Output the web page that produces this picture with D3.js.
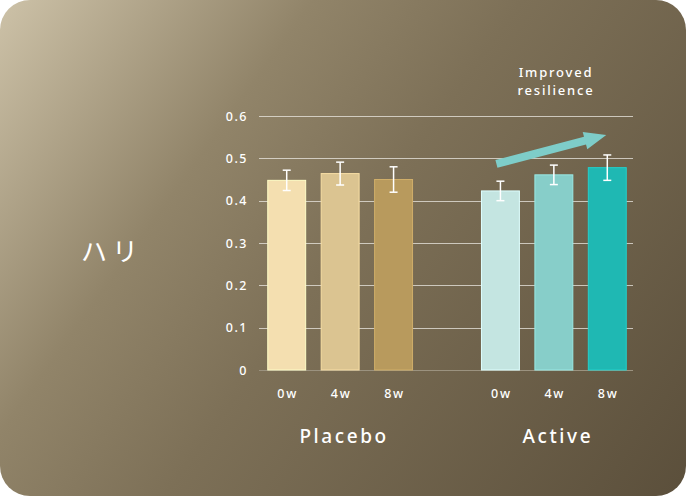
<!DOCTYPE html>
<html><head><meta charset="utf-8">
<script src="https://cdn.jsdelivr.net/npm/d3@7"></script>
<style>html,body{margin:0;padding:0;background:#fff;}svg{display:block;}</style>
</head><body>
<script>
const weeks = ["0w", "4w", "8w"];
const groups = ["Placebo", "Active"];
const placeboValues = [0.448, 0.464, 0.450];
const placeboErrors = [0.024, 0.027, 0.030];
const activeValues = [0.423, 0.461, 0.478];
const activeErrors = [0.023, 0.023, 0.030];
const yTicks = [0, 0.1, 0.2, 0.3, 0.4, 0.5, 0.6];
const placeboColors = ["#f4dfb0", "#dbc491", "#b89a5d"];
const activeColors = ["#c4e5e1", "#87cec9", "#1fb8b3"];
const yLabel = "ハリ";
const annotation = ["Improved", "resilience"];

const W = 686, H = 496;
const svg = d3.select("body").append("svg").attr("width", W).attr("height", H);
const defs = svg.append("defs");
const grad = defs.append("linearGradient").attr("id", "bg")
  .attr("gradientUnits", "userSpaceOnUse").attr("x1", 0).attr("y1", 0).attr("x2", W).attr("y2", H);
grad.append("stop").attr("offset", 0).attr("stop-color", "#cdc2a8");
grad.append("stop").attr("offset", 0.3).attr("stop-color", "#918469");
grad.append("stop").attr("offset", 0.5).attr("stop-color", "#7d7057");
grad.append("stop").attr("offset", 1).attr("stop-color", "#5b4f3b");
svg.append("rect").attr("width", W).attr("height", H).attr("rx", 30).attr("ry", 30).attr("fill", "url(#bg)");

const slots = ["P0", "P4", "P8", "gap", "A0", "A4", "A8"];
const x = d3.scaleBand().domain(slots).range([260, 634]).paddingInner(0.29).paddingOuter(0.145);
const y = d3.scaleLinear().domain([0, 0.6]).range([370, 116]);

const bars = [];
weeks.forEach((w, i) => bars.push({slot: slots[i], week: w, v: placeboValues[i], e: placeboErrors[i], c: placeboColors[i]}));
weeks.forEach((w, i) => bars.push({slot: slots[i + 4], week: w, v: activeValues[i], e: activeErrors[i], c: activeColors[i]}));

// grid
const g = svg.append("g");
g.selectAll("line.grid").data(yTicks).enter().append("line")
  .attr("x1", 259).attr("x2", 633)
  .attr("y1", d => Math.round(y(d)) + 0.5).attr("y2", d => Math.round(y(d)) + 0.5)
  .attr("stroke", d => d === 0 ? "#9b927f" : "rgba(235,232,225,0.75)").attr("stroke-width", 1);

g.selectAll("text.tick").data(yTicks).enter().append("text")
  .attr("x", 248).attr("y", d => y(d)).attr("dy", "0.36em")
  .attr("text-anchor", "end").attr("fill", "#fff")
  .attr("font-family", "Noto Sans, sans-serif").attr("font-size", 12.5).attr("font-weight", 500)
  .attr("letter-spacing", 1.5)
  .text(d => d === 0 ? "0" : d3.format(".1f")(d));

// bars
svg.selectAll("rect.bar").data(bars).enter().append("rect")
  .attr("x", d => x(d.slot)).attr("width", x.bandwidth())
  .attr("y", d => y(d.v)).attr("height", d => y(0) - y(d.v))
  .attr("fill", d => d.c)
  .attr("stroke", d => d3.color(d.c).brighter(0.35)).attr("stroke-width", 1);

// error bars
const eb = svg.selectAll("g.err").data(bars).enter().append("g")
  .attr("stroke", "#fff").attr("stroke-width", 1.5);
eb.append("line").attr("x1", d => x(d.slot) + x.bandwidth() / 2).attr("x2", d => x(d.slot) + x.bandwidth() / 2)
  .attr("y1", d => y(d.v + d.e)).attr("y2", d => y(d.v - d.e));
[1, -1].forEach(s => {
  eb.append("line").attr("x1", d => x(d.slot) + x.bandwidth() / 2 - 4).attr("x2", d => x(d.slot) + x.bandwidth() / 2 + 4)
    .attr("y1", d => y(d.v + s * d.e)).attr("y2", d => y(d.v + s * d.e));
});

// week labels
svg.selectAll("text.wk").data(bars).enter().append("text")
  .attr("x", d => x(d.slot) + x.bandwidth() / 2 + 1).attr("y", 393).attr("dy", "0.36em")
  .attr("text-anchor", "middle").attr("fill", "#fff")
  .attr("font-family", "Noto Sans, sans-serif").attr("font-size", 12.5).attr("font-weight", 500).attr("letter-spacing", 1.8)
  .text(d => d.week);

// group labels
svg.selectAll("text.grp").data(groups).enter().append("text")
  .attr("x", (d, i) => x(slots[i * 4 + 1]) + x.bandwidth() / 2 + 4).attr("y", 436).attr("dy", "0.36em")
  .attr("text-anchor", "middle").attr("fill", "#fff")
  .attr("font-family", "Noto Sans, sans-serif").attr("font-size", 19).attr("font-weight", 500)
  .attr("letter-spacing", 2.6)
  .text(d => d);

// y label
svg.append("text").attr("x", 112).attr("y", 252).attr("dy", "0.36em")
  .attr("text-anchor", "middle").attr("fill", "#fff")
  .attr("font-family", "Noto Sans CJK JP, sans-serif").attr("font-size", 26).attr("font-weight", 400)
  .attr("letter-spacing", 5)
  .text(yLabel);

// annotation text
svg.append("text").attr("text-anchor", "middle").attr("fill", "#fff")
  .attr("font-family", "Noto Sans, sans-serif").attr("font-size", 13).attr("font-weight", 500).attr("letter-spacing", 1.8)
  .selectAll("tspan").data(annotation).enter().append("tspan")
  .attr("x", 556).attr("y", (d, i) => 77 + i * 18)
  .text(d => d);

// arrow (from Active 0w to Active 8w trend)
const tail = [x("A0") + x.bandwidth() / 2 - 4, y(0.487)];
const tip = [x("A8") + x.bandwidth() / 2 - 1, y(0.555)];
const dx = tip[0] - tail[0], dy = tip[1] - tail[1];
const len = Math.hypot(dx, dy), ang = Math.atan2(dy, dx) * 180 / Math.PI;
const sw = 4, hw = 9, hl = 22;
const pts = [[0, -sw], [len - hl, -sw], [len - hl, -hw], [len, 0], [len - hl, hw], [len - hl, sw], [0, sw]];
svg.append("polygon")
  .attr("points", pts.map(p => p.join(",")).join(" "))
  .attr("transform", `translate(${tail[0]},${tail[1]}) rotate(${ang})`)
  .attr("fill", "#7ecdc9");
</script>
</body></html>
